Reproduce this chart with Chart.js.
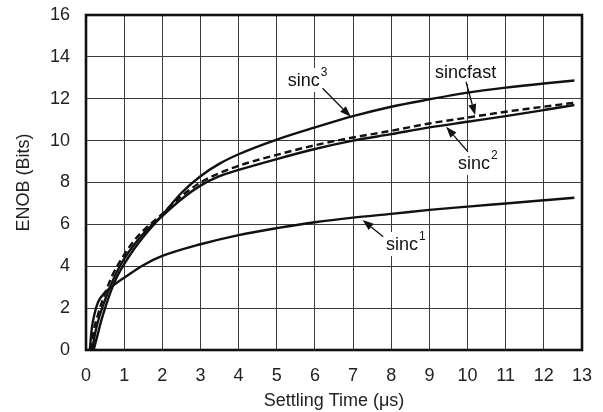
<!DOCTYPE html>
<html>
<head>
<meta charset="utf-8">
<script src="https://cdn.jsdelivr.net/npm/chart.js@4/dist/chart.umd.min.js"></script>
<style>
  html, body { margin: 0; padding: 0; background: #fff; }
  #wrap { width: 603px; height: 412px; }
</style>
</head>
<body>
<div id="wrap"><canvas id="c" width="603" height="412"></canvas></div>
<script>
// ---- data ----
const xTickValues = [0,1,2,3,4,5,6,7,8,9,10,11,12,13];
const yTickValues = [0,2,4,6,8,10,12,14,16];

const sinc1X = [0.1,0.15,0.22,0.32,0.5,0.8,1,1.5,2,3,4,5,6,7,8,9,10,11,12,12.8];
const sinc1Y = [0,1.0,1.7,2.3,2.75,3.2,3.45,4.05,4.49,5.05,5.49,5.82,6.1,6.32,6.5,6.69,6.85,7.0,7.15,7.27];

const sinc2X = [0.16,0.25,0.35,0.5,0.65,0.8,1,1.25,1.5,2,2.5,3,3.5,4,5,6,7,8,9,10,11,12,12.8];
const sinc2Y = [0,0.9,1.6,2.4,3.1,3.7,4.35,5.0,5.55,6.4,7.2,7.85,8.3,8.6,9.12,9.6,10.0,10.31,10.63,10.9,11.17,11.46,11.7];

const sinc3X = [0.2,0.3,0.4,0.5,0.65,0.8,1,1.25,1.5,2,2.5,3,3.5,4,5,6,7,8,9,10,11,12,12.8];
const sinc3Y = [0,0.7,1.4,2.0,2.8,3.45,4.1,4.8,5.4,6.45,7.5,8.3,8.9,9.35,10.05,10.63,11.17,11.62,11.97,12.29,12.53,12.73,12.87];

const sincfastX = [0.13,0.2,0.3,0.4,0.55,0.7,1,1.25,1.5,2,2.5,3,3.5,4,5,6,7,8,9,10,11,12,12.8];
const sincfastY = [0,0.9,1.6,2.2,2.95,3.6,4.55,5.2,5.7,6.5,7.35,8.0,8.45,8.8,9.32,9.78,10.15,10.47,10.82,11.1,11.38,11.62,11.81];

const seriesNames = ['sinc1','sinc2','sinc3','sincfast'];

// annotation labels: text, superscript, label anchor (left x, middle y), arrow start, arrow tip (data units)
const labelTexts = ['sinc','sincfast','sinc','sinc'];
const labelSups  = ['3','','2','1'];
const labelAt    = [[5.29,12.85],[9.15,13.23],[9.75,8.88],[7.86,5.01]];
const arrowFrom  = [[6.2,12.5],[9.96,12.81],[10.01,9.47],[7.79,5.41]];
const arrowTo    = [[6.94,11.14],[10.2,11.22],[9.44,10.66],[7.25,6.21]];

// ---- build ----
const pts = (xs, ys) => xs.map((x, i) => ({x: x, y: ys[i]}));
const FONT = "'Liberation Sans', Arial, Helvetica, sans-serif";

const lineStyle = {
  borderColor: '#111', borderWidth: 2.4, pointRadius: 0, showLine: true,
  fill: false, cubicInterpolationMode: 'monotone'
};

const frameAndNotes = {
  id: 'frameAndNotes',
  afterDatasetsDraw(chart) {
    const ctx = chart.ctx, a = chart.chartArea;
    const xs = chart.scales.x, ys = chart.scales.y;
    ctx.save();
    // frame
    ctx.strokeStyle = '#111';
    ctx.lineWidth = 2.6;
    ctx.strokeRect(a.left, a.top, a.right - a.left, a.bottom - a.top);
    // labels
    const mainFont = '18px ' + FONT, supFont = '12px ' + FONT;
    for (let i = 0; i < labelTexts.length; i++) {
      const lx = xs.getPixelForValue(labelAt[i][0]);
      const ly = ys.getPixelForValue(labelAt[i][1]);
      ctx.font = mainFont;
      const w1 = ctx.measureText(labelTexts[i]).width;
      ctx.font = supFont;
      const w2 = labelSups[i] ? ctx.measureText(labelSups[i]).width + 1 : 0;
      ctx.fillStyle = '#fff';
      ctx.fillRect(lx - 2, ly - 13, w1 + w2 + 4, 24);
      ctx.fillStyle = '#111';
      ctx.textBaseline = 'middle';
      ctx.textAlign = 'left';
      ctx.font = mainFont;
      ctx.fillText(labelTexts[i], lx, ly);
      if (labelSups[i]) {
        ctx.font = supFont;
        ctx.fillText(labelSups[i], lx + w1 + 1, ly - 8);
      }
      // arrow
      const x0 = xs.getPixelForValue(arrowFrom[i][0]), y0 = ys.getPixelForValue(arrowFrom[i][1]);
      const x1 = xs.getPixelForValue(arrowTo[i][0]), y1 = ys.getPixelForValue(arrowTo[i][1]);
      const ang = Math.atan2(y1 - y0, x1 - x0);
      const hl = 11, hw = 4;
      const bx = x1 - hl * Math.cos(ang), by = y1 - hl * Math.sin(ang);
      ctx.strokeStyle = '#111';
      ctx.lineWidth = 1.3;
      ctx.beginPath(); ctx.moveTo(x0, y0); ctx.lineTo(bx, by); ctx.stroke();
      ctx.beginPath();
      ctx.moveTo(x1, y1);
      ctx.lineTo(bx + hw * Math.sin(ang), by - hw * Math.cos(ang));
      ctx.lineTo(bx - hw * Math.sin(ang), by + hw * Math.cos(ang));
      ctx.closePath();
      ctx.fillStyle = '#111';
      ctx.fill();
    }
    ctx.restore();
  }
};

new Chart(document.getElementById('c'), {
  type: 'scatter',
  data: {
    datasets: [
      Object.assign({label: seriesNames[0], data: pts(sinc1X, sinc1Y)}, lineStyle),
      Object.assign({label: seriesNames[1], data: pts(sinc2X, sinc2Y)}, lineStyle),
      Object.assign({label: seriesNames[2], data: pts(sinc3X, sinc3Y)}, lineStyle),
      Object.assign({label: seriesNames[3], data: pts(sincfastX, sincfastY), borderDash: [7, 4]}, lineStyle)
    ]
  },
  options: {
    responsive: false,
    animation: false,
    layout: { padding: { left: 13, top: 15, right: 21, bottom: 0 } },
    plugins: { legend: { display: false }, tooltip: { enabled: false } },
    scales: {
      x: {
        type: 'linear', min: 0, max: 13,
        afterBuildTicks: s => { s.ticks = xTickValues.map(v => ({value: v})); },
        afterFit: s => { s.height = 62; s.paddingLeft = 0; s.paddingRight = 0; },
        grid: { color: '#3a3a3a', lineWidth: 1, drawTicks: false },
        border: { display: false },
        ticks: { color: '#222', font: { family: FONT, size: 18 }, padding: 15, maxRotation: 0 },
        title: { display: true, text: 'Settling Time (\u03BCs)', color: '#222',
                 font: { family: FONT, size: 18 }, padding: 0 }
      },
      y: {
        type: 'linear', min: 0, max: 16,
        afterBuildTicks: s => { s.ticks = yTickValues.map(v => ({value: v})); },
        afterFit: s => { s.width = 73; s.paddingTop = 0; s.paddingBottom = 0; },
        grid: { color: '#3a3a3a', lineWidth: 1, drawTicks: false },
        border: { display: false },
        ticks: { color: '#222', font: { family: FONT, size: 18 }, padding: 16 },
        title: { display: true, text: 'ENOB (Bits)', color: '#222',
                 font: { family: FONT, size: 18 }, padding: 0 }
      }
    }
  },
  plugins: [frameAndNotes]
});
</script>
</body>
</html>
